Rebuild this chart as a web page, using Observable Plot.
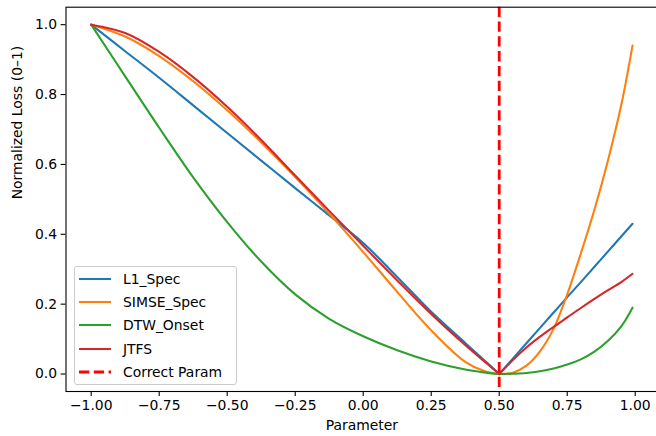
<!DOCTYPE html>
<html>
<head>
<meta charset="utf-8">
<script src="https://cdn.jsdelivr.net/npm/d3@7"></script>
<script src="https://cdn.jsdelivr.net/npm/@observablehq/plot@0.6"></script>
<style>
  html, body { margin: 0; padding: 0; background: #fff; }
  #wrap { position: relative; width: 656px; height: 436px; font-family: "DejaVu Sans", sans-serif; }
  #legend { position: absolute; left: 74px; top: 265.5px; width: 163px; height: 119px;
    background: rgba(255,255,255,0.8); border: 1px solid #cccccc; border-radius: 3px; box-sizing: border-box; }
  .row { position: absolute; left: 0; height: 20px; }
  .row svg { position: absolute; left: 4px; top: 0; }
  .row span { position: absolute; left: 48px; top: 1px; font-size: 13.9px; color: #000; white-space: nowrap; line-height: 18px; }
</style>
</head>
<body>
<div id="wrap"></div>
<script>
// Data
const params = [-1, -0.875, -0.75, -0.625, -0.5, -0.375, -0.25, -0.125, 0, 0.125, 0.25, 0.375, 0.45, 0.5, 0.55, 0.6, 0.65, 0.7, 0.75, 0.8, 0.85, 0.9, 0.95, 0.99];
const seriesNames = ["L1_Spec", "SIMSE_Spec", "DTW_Onset", "JTFS"];
const seriesColors = ["#1f77b4", "#ff7f0e", "#2ca02c", "#d62728"];
const l1Spec    = [1, 0.924, 0.848, 0.769, 0.69, 0.611, 0.532, 0.454, 0.375, 0.278, 0.178, 0.089, 0.036, 0, 0.044, 0.088, 0.132, 0.176, 0.22, 0.263, 0.307, 0.351, 0.395, 0.43];
const simseSpec = [1, 0.966, 0.91, 0.838, 0.755, 0.663, 0.564, 0.459, 0.349, 0.235, 0.125, 0.035, 0.007, 0, 0.004, 0.024, 0.065, 0.13, 0.228, 0.345, 0.47, 0.612, 0.775, 0.94];
const dtwOnset  = [1, 0.852, 0.705, 0.563, 0.435, 0.322, 0.228, 0.158, 0.108, 0.068, 0.036, 0.013, 0.004, 0, 0.001, 0.003, 0.008, 0.016, 0.027, 0.042, 0.064, 0.095, 0.138, 0.19];
const jtfs      = [1, 0.976, 0.922, 0.85, 0.765, 0.67, 0.568, 0.467, 0.367, 0.268, 0.172, 0.083, 0.033, 0, 0.04, 0.076, 0.107, 0.135, 0.162, 0.189, 0.215, 0.24, 0.264, 0.287];
const correctParam = 0.5;
const xTicks = [-1, -0.75, -0.5, -0.25, 0, 0.25, 0.5, 0.75, 1];
const yTicks = [0, 0.2, 0.4, 0.6, 0.8, 1.0];
const xLabel = "Parameter";
const yLabel = "Normalized Loss (0–1)";
const legendLabelCorrect = "Correct Param";

const allSeries = [l1Spec, simseSpec, dtwOnset, jtfs];
const rows = [];
allSeries.forEach((vals, si) => {
  params.forEach((p, i) => {
    if (p <= correctParam) rows.push({x: p, y: vals[i], series: seriesNames[si], piece: seriesNames[si] + "-L"});
  });
  params.forEach((p, i) => {
    if (p >= correctParam) rows.push({x: p, y: vals[i], series: seriesNames[si], piece: seriesNames[si] + "-R"});
  });
});

const chart = Plot.plot({
  width: 656,
  height: 436,
  marginLeft: 65.5,
  marginRight: -1.2,
  marginTop: 6.7,
  marginBottom: 45,
  style: {fontFamily: "DejaVu Sans, sans-serif", fontSize: "13.9px", color: "#000", background: "transparent"},
  x: {domain: [-1.0926, 1.0826]},
  y: {domain: [-0.05, 1.05]},
  color: {domain: seriesNames, range: seriesColors},
  marks: [
    Plot.line(rows, {x: "x", y: "y", z: "piece", stroke: "series", strokeWidth: 2.08, curve: "catmull-rom"}),
    Plot.ruleX([correctParam], {stroke: "#ff0000", strokeWidth: 2.78, strokeDasharray: "10.3,4.5"}),
    Plot.frame({stroke: "#000", strokeWidth: 1.1}),
    Plot.axisX({ticks: xTicks, tickFormat: d3.format(".2f"), tickSize: 4.9, tickPadding: 4, label: null, strokeWidth: 1.1}),
    Plot.axisY({ticks: yTicks, tickFormat: d3.format(".1f"), tickSize: 4.9, tickPadding: 4, label: null, strokeWidth: 1.1}),
    Plot.text([xLabel], {frameAnchor: "bottom", dy: 38, fontSize: 13.9, fill: "#000"}),
    Plot.text([yLabel], {frameAnchor: "left", rotate: -90, dx: -48, fontSize: 13.9, fill: "#000"})
  ]
});

const wrap = document.getElementById("wrap");
wrap.appendChild(chart);

// Legend
const legend = document.createElement("div");
legend.id = "legend";
const entries = seriesNames.map((n, i) => ({name: n, color: seriesColors[i], dash: null, w: 2.08}));
entries.push({name: legendLabelCorrect, color: "#ff0000", dash: "10.3,4.5", w: 2.78});
entries.forEach((e, i) => {
  const row = document.createElement("div");
  row.className = "row";
  row.style.top = (2.3 + i * 23.3) + "px";
  row.style.width = "160px";
  row.innerHTML = `<svg width="34" height="20"><line x1="0" x2="32" y1="10" y2="10" stroke="${e.color}" stroke-width="${e.w}" ${e.dash ? `stroke-dasharray="${e.dash}"` : ""}/></svg><span>${e.name}</span>`;
  legend.appendChild(row);
});
wrap.appendChild(legend);
</script>
</body>
</html>
